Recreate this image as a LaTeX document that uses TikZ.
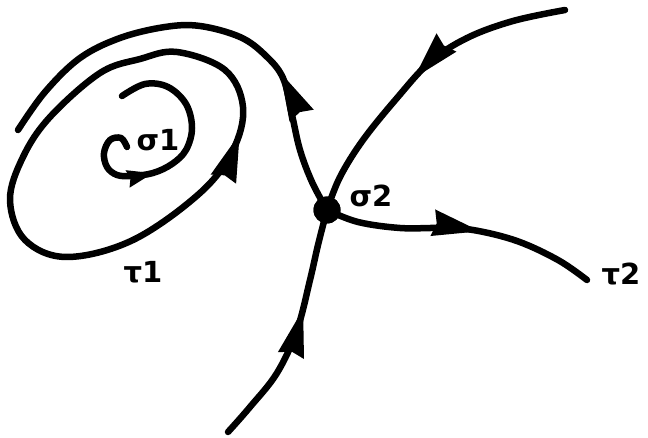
\documentclass[tikz,border=0pt]{standalone}
\usepackage{fontspec}
\setmainfont{DejaVu Sans}
\usetikzlibrary{decorations.markings}
\newcommand{\bigtip}{\fill (4pt,0pt) -- (-44pt,13.5pt) -- (-40pt,0pt) -- (-44pt,-13.5pt) -- cycle;}
\newcommand{\smalltip}{\fill (3pt,0pt) -- (-23pt,9pt) -- (-20pt,0pt) -- (-23pt,-9pt) -- cycle;}
\tikzset{
  traj/.style={line width=6.5pt, line cap=round, line join=round},
  arr/.style={postaction={decorate}, decoration={markings,
     mark=at position #1 with {\bigtip}}},
  sarr/.style={postaction={decorate}, decoration={markings,
     mark=at position #1 with {\smalltip}}},
  lab/.style={inner sep=0pt, font=\fontsize{29}{33}\selectfont\bfseries},
  saddle/.style={circle, fill=black, minimum size=27pt, inner sep=0pt}
}
\begin{document}
\begin{tikzpicture}[x=1pt,y=-1pt]
\useasboundingbox (0,0) rectangle (648,438);
\fill[white] (0,0) rectangle (648,438);
% saddle
\node[saddle] (s2) at (327,210) {};
% end points
\coordinate (e1) at (18,130);
\coordinate (e2) at (565,10);
\coordinate (e3) at (228,432);
\coordinate (e4) at (587,280);
% limit cycle tau1
\draw[traj, arr=150pt] plot[smooth cycle, tension=0.6] coordinates {
 (67,257) (133,240) (200,193) (233,150) (243,107) (225,70) (177,52) (140,59)
 (100,73) (50,117) (23,157) (10,200) (25,240)};
% focus sigma1 spiral
\draw[traj, sarr=98pt] plot[smooth, tension=0.6] coordinates {
 (127,147) (121,138) (110,140) (104,153) (107,167) (117,175) (132,176) (153,173)
 (172,164) (186,150) (192,128) (186,104) (168,87) (145,84) (122,96)};
% unstable separatrix going up and around
\draw[traj, arr=142pt] plot[smooth, tension=0.6] coordinates {
 (s2.center) (312,182) (300,150) (292,115) (283,78) (265,55) (240,37) (200,26)
 (165,27) (120,38) (80,58) (45,92) (e1)};
% stable separatrix from top right
\draw[traj, arr=165pt] plot[smooth, tension=0.6] coordinates {
 (e2) (513,21) (467,38) (430,62) (397,98) (363,140) (340,177) (s2.center)};
% stable separatrix from bottom
\draw[traj, arr=142pt] plot[smooth, tension=0.6] coordinates {
 (e3) (250,407) (277,373) (297,330) (310,280) (318,245) (s2.center)};
% unstable separatrix to the right
\draw[traj, arr=152pt] plot[smooth, tension=0.6] coordinates {
 (s2.center) (358,222) (400,228) (440,228) (473,230) (517,241) (558,260) (e4)};
\node[saddle] at (s2.center) {};
% labels
\node[lab] (ls1) at (158,140) {σ1};
\node[lab] (ls2) at (371,196) {σ2};
\node[lab] (lt1) at (143,272) {τ1};
\node[lab] (lt2) at (621,274) {τ2};
\end{tikzpicture}
\end{document}
